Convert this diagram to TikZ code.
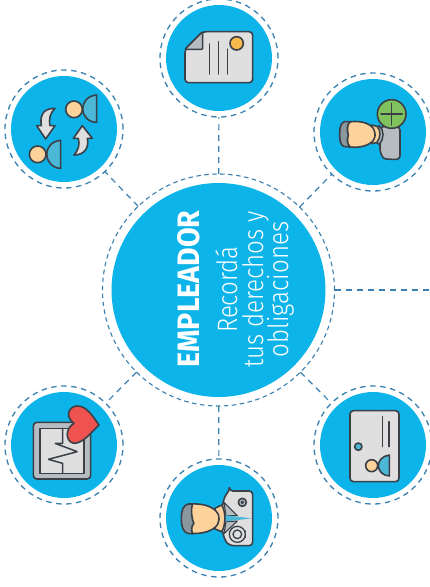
\documentclass[tikz,border=0pt]{standalone}
\usepackage{fontspec}
\setmainfont{Fira Sans}
\newfontfamily\lightf{Fira Sans Light}
\definecolor{cyanb}{HTML}{0DB4EA}
\definecolor{dashb}{HTML}{3A80B0}
\definecolor{inkd}{HTML}{3A4046}
\definecolor{paper}{HTML}{DFDFE0}
\definecolor{greyd}{HTML}{B5BCC2}
\definecolor{hair}{HTML}{8A979F}
\definecolor{skin}{HTML}{FDD39B}
\definecolor{orangeb}{HTML}{F9B94C}
\definecolor{tealb}{HTML}{4CB8D8}
\definecolor{greenb}{HTML}{7FC25E}
\definecolor{redb}{HTML}{EF5350}
\tikzset{
  disc/.style={circle,fill=cyanb,inner sep=0pt,outer sep=0pt,minimum size=106pt},
  bigdisc/.style={disc,minimum size=214pt},
  ring/.style={circle,draw=dashb,line width=1.3pt,dash pattern=on 5.5pt off 4.5pt,inner sep=0pt,outer sep=0pt,minimum size=118pt},
  bigring/.style={ring,line width=1.1pt,dash pattern=on 4.5pt off 3.5pt,minimum size=232pt},
  link/.style={draw=dashb,line width=1.2pt,dash pattern=on 6pt off 5pt},
  zv/.style 2 args={shift={(#1,#2)},x=.33333pt,y=-.33333pt},
  ic/.style={draw=inkd,line width=1.6pt,line join=round,line cap=round},
  hline/.style={draw=inkd,line width=1.5pt,line cap=round},
  titletext/.style={rotate=90,text=white,inner sep=0pt,anchor=base}
}
\newcommand{\lighttxt}[1]{\scalebox{0.86}[1]{#1}}
\begin{document}
\begin{tikzpicture}[x=1pt,y=-1pt]
\useasboundingbox[fill=white] (0,0) rectangle (429,587);
% discs
\node[bigdisc] (mainD) at (218.5,290) {};
\node[disc] (topD) at (219,58) {};
\node[disc] (tlD) at (64,129) {};
\node[disc] (trD) at (373,132) {};
\node[disc] (blD) at (64,445) {};
\node[disc] (brD) at (373,445) {};
\node[disc] (botD) at (219,518) {};
% rings
\node[bigring] (main) at (218.5,290) {};
\node[ring] (top) at (219,58) {};
\node[ring] (tl) at (64,129) {};
\node[ring] (tr) at (373,132) {};
\node[ring] (bl) at (64,445) {};
\node[ring] (br) at (373,445) {};
\node[ring] (bot) at (219,518) {};
\coordinate (rightEnd) at (429,290);
% connectors
\draw[link] (main) -- (top);
\draw[link] (main) -- (tl);
\draw[link] (main) -- (tr);
\draw[link] (main) -- (bl);
\draw[link] (main) -- (br);
\draw[link] (main) -- (bot);
\draw[link] (main.east) -- (rightEnd);
% text
\node[titletext,font=\bfseries\fontsize{28}{28}\selectfont] (t1) at (199,289) {\resizebox{157pt}{22pt}{EMPLEADOR}};
\node[titletext,font=\lightf\fontsize{28}{28}\selectfont] (t2) at (237,289.5) {\lighttxt{Recordá}};
\node[titletext,font=\lightf\fontsize{28}{28}\selectfont] (t3) at (263,289.5) {\lighttxt{tus derechos y}};
\node[titletext,font=\lightf\fontsize{28}{28}\selectfont] (t4) at (288,289.5) {\lighttxt{obligaciones}};
% icon: document
\begin{scope}[zv={150}{0}]
\draw[ic,fill=paper,rounded corners=3.5pt] (158,95) -- (308,95) -- (308,248) -- (105,248) -- (105,148) -- cycle;
\draw[ic,fill=greyd,rounded corners=1pt] (158,95) -- (158,148) -- (105,148) -- cycle;
\draw[hline] (178,132) -- (178,222) (205,125) -- (205,222) (233,147) -- (233,222);
\draw[ic,fill=orangeb] (260,130) circle[radius=20];
\end{scope}
% icon: exchange
\begin{scope}[zv={0}{65}]
\draw[ic,fill=tealb] (290,90) .. controls (262,92) and (248,112) .. (248,133) .. controls (248,152) and (265,172) .. (290,172) -- cycle;
\draw[ic,fill=skin] (222,133) circle[radius=25];
\draw[ic,fill=tealb] (182,226) .. controls (155,228) and (140,248) .. (140,268) .. controls (140,288) and (157,310) .. (182,310) -- cycle;
\draw[ic,fill=skin] (113,268) circle[radius=25];
\draw[ic,fill=paper] (165,130) .. controls (135,130) and (118,145) .. (124,182) -- (110,182) -- (137,222) -- (165,182) -- (150,182) .. controls (146,160) and (150,145) .. (165,130) -- cycle;
\draw[ic,fill=paper] (222,270) .. controls (252,270) and (268,250) .. (262,220) -- (277,220) -- (247,182) -- (220,220) -- (235,220) .. controls (240,240) and (235,255) .. (222,270) -- cycle;
\end{scope}
% icon: person plus
\begin{scope}[zv={305}{65}]
\draw[ic,fill=greyd,rounded corners=3.5pt] (225,185) -- (285,185) -- (285,283) -- (250,283) .. controls (232,280) and (225,262) .. (225,240) -- cycle;
\draw[ic,fill=greyd] (222,182) .. controls (238,195) and (238,222) .. (222,238) -- (212,230) -- (212,190) -- cycle;
\draw[ic,fill=skin] (200,180) -- (216,184) .. controls (228,198) and (228,215) .. (216,232) -- (200,236) -- cycle;
\draw[ic,fill=skin] (128,172) .. controls (155,166) and (190,170) .. (205,190) .. controls (212,205) and (212,215) .. (205,226) .. controls (190,245) and (155,250) .. (128,245) -- cycle;
\draw[ic,fill=hair] (135,170) -- (118,170) .. controls (104,175) and (104,195) .. (104,208) .. controls (104,225) and (105,240) .. (118,245) -- (135,245) .. controls (125,235) and (125,222) .. (130,210) .. controls (125,195) and (125,182) .. (135,170) -- cycle;
\draw[ic,fill=greenb] (260,147) circle[radius=43];
\draw[hline] (260,115) -- (260,180) (228,147) -- (292,147);
\end{scope}
% icon: heart monitor
\begin{scope}[zv={0}{380}]
\draw[ic,fill=greyd,rounded corners=3.5pt] (100,127) rectangle (272,297);
\draw[ic,fill=paper] (120,145) rectangle (252,280);
\draw[hline,line join=bevel] (188,145) -- (188,190) -- (165,190) -- (232,215) -- (145,238) -- (188,250) -- (188,280);
\draw[ic,fill=redb] (297,135) .. controls (280,112) and (262,78) .. (232,78) .. controls (208,78) and (192,108) .. (222,130) .. controls (195,145) and (195,185) .. (222,190) .. controls (250,190) and (275,155) .. (297,135) -- cycle;
\end{scope}
% icon: card
\begin{scope}[zv={305}{380}]
\draw[ic,fill=paper,rounded corners=3.5pt] (135,92) rectangle (282,305);
\draw[hline] (232,110) -- (232,200) (252,125) -- (252,200);
\draw[ic,fill=tealb] (160,200) circle[radius=11];
\draw[ic,fill=tealb] (253,225) .. controls (232,228) and (220,242) .. (220,257) .. controls (220,272) and (232,287) .. (253,288) -- cycle;
\draw[ic,fill=skin] (200,257) circle[radius=18];
\end{scope}
% icon: doctor
\begin{scope}[zv={150}{455}]
\draw[ic,fill=paper,rounded corners=3.5pt] (238,108) -- (308,108) -- (308,272) -- (240,272) .. controls (222,255) and (215,225) .. (215,190) .. controls (215,155) and (222,125) .. (238,108) -- cycle;
\draw[ic,fill=greyd,line width=1.1pt] (222,142) -- (262,182) -- (228,182) -- cycle;
\draw[ic,fill=greyd,line width=1.1pt] (222,236) -- (262,198) -- (228,200) -- cycle;
\fill[tealb] (222,180) -- (305,190) -- (222,200) -- cycle;
\draw[ic,fill=skin] (195,160) -- (215,150) .. controls (228,170) and (228,210) .. (215,230) -- (195,222) -- cycle;
\draw[ic,fill=skin] (120,147) .. controls (150,145) and (190,150) .. (205,178) .. controls (208,190) and (208,200) .. (203,208) .. controls (190,230) and (150,238) .. (120,235) -- cycle;
\draw[ic,fill=hair] (128,147) -- (115,147) .. controls (98,150) and (94,170) .. (94,190) .. controls (94,212) and (98,232) .. (115,236) -- (128,236) .. controls (122,225) and (125,212) .. (132,205) .. controls (125,195) and (122,160) .. (128,147) -- cycle;
\draw[ic,fill=greyd] (277,142) circle[radius=12];
\draw[ic,fill=tealb,line width=1pt] (277,142) circle[radius=4];
\draw[ic,line width=1.3pt] (262,238) circle[radius=24];
\draw[ic,line width=1.3pt] (262,238) circle[radius=13];
\draw[hline] (287,228) -- (287,230) (287,245) -- (287,247);
\end{scope}
\end{tikzpicture}
\end{document}
